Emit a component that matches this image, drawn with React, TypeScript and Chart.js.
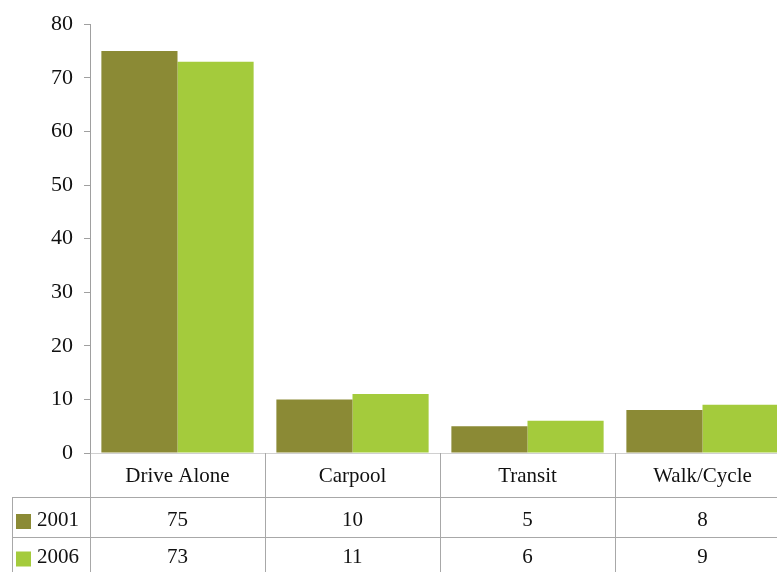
import React, { useEffect, useRef } from "react";
import { Chart, registerables } from "chart.js";

Chart.register(...registerables);

const categories = ["Drive Alone", "Carpool", "Transit", "Walk/Cycle"];
const series2001 = [75, 10, 5, 8];
const series2006 = [73, 11, 6, 9];
const seriesNames = ["2001", "2006"];
const yTicks = [0, 10, 20, 30, 40, 50, 60, 70, 80];

const COLORS = ["#8b8a35", "#a4cb3c"];
const FONT = "'Liberation Serif', 'Times New Roman', serif";

const tablePlugin = {
  id: "dataTable",
  afterDraw(chart: any) {
    const ctx = chart.ctx;
    const x = chart.scales.x;
    const area = chart.chartArea;
    const n = categories.length;
    const w = (x.right - x.left) / n;
    const H = chart.height;
    const rowTop = area.bottom;
    const r1 = rowTop + 44;
    const r2 = r1 + 40;
    const leftEdge = 12;
    ctx.save();
    ctx.strokeStyle = "#a8a8a8";
    ctx.lineWidth = 1;
    for (let i = 0; i <= n; i++) {
      const bx = Math.round(x.left + i * w) + 0.5;
      ctx.beginPath();
      ctx.moveTo(bx, rowTop);
      ctx.lineTo(bx, H);
      ctx.stroke();
    }
    ctx.beginPath();
    ctx.moveTo(leftEdge + 0.5, r1);
    ctx.lineTo(leftEdge + 0.5, H);
    ctx.stroke();
    [r1, r2].forEach((yy) => {
      ctx.beginPath();
      ctx.moveTo(leftEdge, Math.round(yy) + 0.5);
      ctx.lineTo(chart.width, Math.round(yy) + 0.5);
      ctx.stroke();
    });
    ctx.fillStyle = "#111";
    ctx.font = `21px ${FONT}`;
    ctx.textAlign = "center";
    ctx.textBaseline = "middle";
    categories.forEach((c, i) => {
      const cx = x.getPixelForValue(i);
      ctx.fillText(c, cx, (rowTop + r1) / 2 + 1);
    });
    const rows = [series2001, series2006];
    const rowCenters = [(r1 + r2) / 2 + 3, (r2 + H) / 2 + 3];
    rows.forEach((vals, ri) => {
      vals.forEach((v, i) => {
        const cx = x.getPixelForValue(i);
        ctx.fillText(String(v), cx, rowCenters[ri]);
      });
      ctx.fillStyle = COLORS[ri];
      ctx.fillRect(16, rowCenters[ri] - 6, 15, 15);
      ctx.fillStyle = "#111";
      ctx.textAlign = "left";
      ctx.fillText(seriesNames[ri], 37, rowCenters[ri]);
      ctx.textAlign = "center";
    });
    ctx.restore();
  },
};

export default function App() {
  const ref = useRef<HTMLCanvasElement | null>(null);
  useEffect(() => {
    if (!ref.current) return;
    const chart = new Chart(ref.current, {
      type: "bar",
      data: {
        labels: categories,
        datasets: [
          {
            label: seriesNames[0],
            data: series2001,
            backgroundColor: COLORS[0],
            categoryPercentage: 0.87,
            barPercentage: 1.0,
          },
          {
            label: seriesNames[1],
            data: series2006,
            backgroundColor: COLORS[1],
            categoryPercentage: 0.87,
            barPercentage: 1.0,
          },
        ],
      },
      options: {
        animation: false,
        responsive: false,
        maintainAspectRatio: false,
        layout: { padding: { top: 24, right: 0, left: 0, bottom: 0 } },
        plugins: { legend: { display: false }, tooltip: { enabled: false } },
        scales: {
          x: {
            grid: { display: false, drawTicks: false },
            border: { display: true, color: "#d0d0d0" },
            ticks: { display: false },
            afterFit(scale: any) {
              scale.height = 119;
            },
          },
          y: {
            min: 0,
            max: 80,
            afterBuildTicks(scale: any) {
              scale.ticks = yTicks.map((v) => ({ value: v }));
            },
            grid: {
              drawOnChartArea: false,
              drawTicks: true,
              tickLength: 6,
              color: "#a0a0a0",
            },
            border: { display: true, color: "#a0a0a0" },
            ticks: {
              padding: 11,
              color: "#111",
              font: { family: FONT, size: 22 },
            },
            afterFit(scale: any) {
              scale.width = 90;
            },
          },
        },
      },
      plugins: [tablePlugin],
    });
    return () => chart.destroy();
  }, []);
  return (
    <div
      style={{
        position: "fixed",
        left: 0,
        top: 0,
        width: 777,
        height: 572,
        overflow: "hidden",
        background: "#fff",
      }}
    >
      <canvas ref={ref} width={790} height={572} style={{ width: 790, height: 572, display: "block" }} />
    </div>
  );
}
